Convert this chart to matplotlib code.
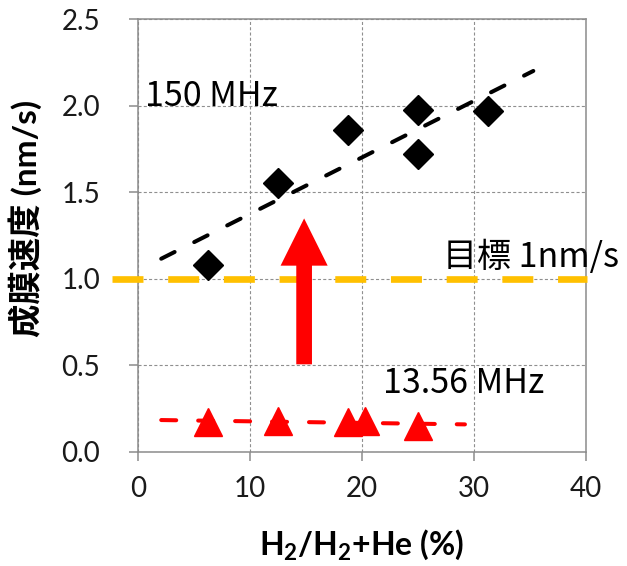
import matplotlib
matplotlib.use("Agg")
import matplotlib.pyplot as plt
from matplotlib.patches import FancyArrow

plt.rcParams['font.family'] = ['Lato', 'Noto Sans CJK JP', 'DejaVu Sans']
plt.rcParams['mathtext.fontset'] = 'custom'
plt.rcParams['mathtext.rm'] = 'Lato'
plt.rcParams['mathtext.bf'] = 'Lato:bold'
plt.rcParams['mathtext.default'] = 'bf'
plt.rcParams['lines.scale_dashes'] = False

# 150 MHz data (black diamonds)
x_150 = [6.25, 12.5, 18.75, 25.0, 25.0, 31.25]
y_150 = [1.08, 1.555, 1.86, 1.975, 1.72, 1.97]
# 150 MHz trend line end points
trend_150_x = [2.1, 35.3]
trend_150_y = [1.115, 2.20]

# 13.56 MHz data (red triangles)
x_1356 = [6.25, 12.5, 18.75, 20.25, 25.0]
y_1356 = [0.172, 0.176, 0.170, 0.176, 0.148]
trend_1356_x = [2.1, 29.2]
trend_1356_y = [0.183, 0.158]

# target rate
target_rate = 1.0

xticks = [0, 10, 20, 30, 40]
yticks = [0.0, 0.5, 1.0, 1.5, 2.0, 2.5]

fig = plt.figure(figsize=(6.27, 5.66), dpi=100)
ax = fig.add_axes([0.2196, 0.2019, 0.7150, 0.7645])

ax.set_xlim(0, 40)
ax.set_ylim(0, 2.5)
ax.set_xticks(xticks)
ax.set_yticks(yticks)
ax.set_yticklabels([f'{v:.1f}' for v in yticks])
ax.set_xticklabels([str(v) for v in xticks])

# grid and frame
ax.grid(True, color='#8f8f8f', linewidth=0.8, linestyle=(0, (2.2, 1.6)))
ax.set_axisbelow(True)
for sp in ax.spines.values():
    sp.set_color('#8c8c8c')
    sp.set_linewidth(1.1)
ax.tick_params(axis='both', direction='out', color='#8c8c8c', width=1.1,
               length=6.5, labelsize=20, labelcolor='#1a1a1a')
ax.tick_params(axis='y', pad=20.5)
ax.tick_params(axis='x', pad=11)

# target line (extends past the left spine)
ax.plot([-2.32, 40.05], [target_rate, target_rate], color='#FFC000', linewidth=4.8,
        dashes=(22.3, 17.8), dash_capstyle='butt', clip_on=False, zorder=3)

# trend lines
ax.plot(trend_150_x, trend_150_y, color='black', linewidth=2.9,
        dashes=(10.8, 15.8), dash_capstyle='round', zorder=4)
ax.plot(trend_1356_x, trend_1356_y, color='#FF0000', linewidth=2.9,
        dashes=(10.8, 15.8), dash_capstyle='round', zorder=4)

# markers
ax.plot(x_150, y_150, linestyle='none', marker='D', markersize=15.3,
        color='black', zorder=5)
ax.plot(x_1356, y_1356, linestyle='none', marker='^', markersize=20,
        color='#FF0000', zorder=5)

# big red arrow
arrow = FancyArrow(14.85, 0.505, 0, 0.843, width=1.4, head_width=4.2,
                   head_length=0.273, length_includes_head=True,
                   color='#FF0000', linewidth=0, zorder=6)
ax.add_patch(arrow)

# annotations
ann_font = ['Noto Sans CJK JP', 'DejaVu Sans']
ax.text(0.65, 1.997, '150 MHz', fontsize=24.5, family=ann_font, va='baseline',
        ha='left', zorder=7)
ax.text(27.2, 1.067, '目標 1nm/s', fontsize=24.5, family=ann_font, va='baseline',
        ha='left', zorder=7, clip_on=False)
ax.text(21.9, 0.337, '13.56 MHz', fontsize=24.5, family=ann_font, va='baseline',
        ha='left', zorder=7)

# axis labels
ax.set_ylabel('成膜速度 (nm/s)', fontsize=24, fontweight='bold',
              family=['Lato', 'Noto Sans CJK JP'], va='center')
ax.yaxis.set_label_coords(-0.251, 0.54)
ax.set_xlabel('H$_2$/H$_2$+He (%)', fontsize=23, fontweight='bold', va='baseline')
ax.xaxis.set_label_coords(0.5, -0.2387)

fig.savefig('out.png', dpi=100)
